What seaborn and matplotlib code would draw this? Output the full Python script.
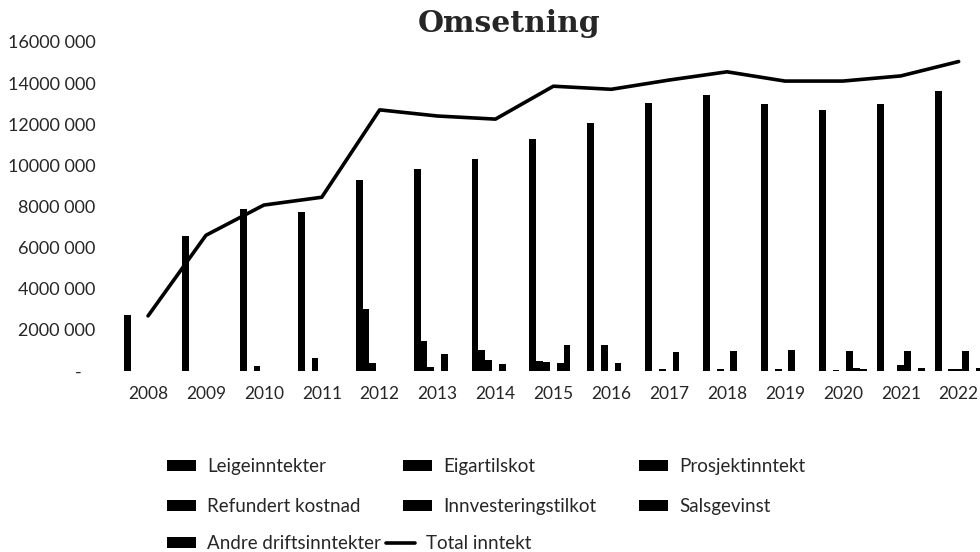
import numpy as np
import pandas as pd
import matplotlib
matplotlib.use("Agg")
import matplotlib.pyplot as plt
import seaborn as sns

years = [str(y) for y in range(2008, 2023)]
leigeinntekter = [2.70, 6.58, 7.86, 7.75, 9.29, 9.82, 10.31, 11.28, 12.06, 13.03, 13.42, 12.99, 12.70, 12.99, 13.62]
eigartilskot = [0, 0, 0, 0, 3.02, 1.47, 1.02, 0.50, 0, 0, 0, 0, 0, 0, 0]
prosjektinntekt = [0, 0, 0.24, 0.62, 0.40, 0.19, 0.53, 0.45, 1.26, 0.08, 0.08, 0.08, 0.03, 0, 0.10]
refundert_kostnad = [0, 0, 0, 0, 0, 0, 0, 0, 0, 0, 0, 0, 0, 0.29, 0.10]
innvesteringstilkot = [0, 0, 0, 0, 0, 0.81, 0.34, 0.40, 0.40, 0.90, 0.99, 1.02, 0.99, 0.99, 0.99]
salsgevinst = [0, 0, 0, 0, 0, 0, 0, 1.26, 0, 0, 0, 0, 0.13, 0, 0]
andre_driftsinntekter = [0, 0, 0, 0, 0, 0, 0, 0, 0, 0, 0, 0, 0.10, 0.16, 0.15]
total_inntekt = [2.68, 6.60, 8.07, 8.45, 12.70, 12.40, 12.25, 13.85, 13.70, 14.15, 14.55, 14.10, 14.10, 14.35, 15.05]

series_names = ["Leigeinntekter", "Eigartilskot", "Prosjektinntekt", "Refundert kostnad",
                "Innvesteringstilkot", "Salsgevinst", "Andre driftsinntekter"]
series_values = [leigeinntekter, eigartilskot, prosjektinntekt, refundert_kostnad,
                 innvesteringstilkot, salsgevinst, andre_driftsinntekter]
line_name = "Total inntekt"
title = "Omsetning"
y_ticks = [0, 2e6, 4e6, 6e6, 8e6, 10e6, 12e6, 14e6, 16e6]
y_tick_labels = ["-   ", "2000 000", "4000 000", "6000 000", "8000 000",
                 "10000 000", "12000 000", "14000 000", "16000 000"]

rows = []
for name, vals in zip(series_names, series_values):
    for yr, v in zip(years, vals):
        rows.append({"År": yr, "Serie": name, "Verdi": v * 1e6})
df = pd.DataFrame(rows)

sns.set_theme(style="white")
plt.rcParams["font.family"] = ["Lato", "DejaVu Sans"]

fig = plt.figure(figsize=(9.8, 5.52), dpi=100)
ax = fig.add_axes([119.1 / 980, 1 - 371 / 552, 868.5 / 980, 329 / 552])

sns.barplot(data=df, x="År", y="Verdi", hue="Serie", order=years, hue_order=series_names,
            palette=["black"] * 7, saturation=1, width=0.824, gap=0, errorbar=None,
            linewidth=0, ax=ax)
sns.lineplot(x=np.arange(len(years)), y=np.array(total_inntekt) * 1e6, color="black",
             linewidth=2.6, ax=ax, label=line_name)

handles, labels = ax.get_legend_handles_labels()
ax.get_legend().remove()
hmap = dict(zip(labels, handles))

leg_kw = dict(frameon=False, fontsize=13.5, borderpad=0, borderaxespad=0,
              handlelength=1.55, handleheight=0.55, handletextpad=0.6)
order_a = ["Leigeinntekter", "Refundert kostnad", "Eigartilskot",
           "Innvesteringstilkot", "Prosjektinntekt", "Salsgevinst"]
leg_a = fig.legend([hmap[o] for o in order_a], order_a, ncol=3, loc="upper left",
                   bbox_to_anchor=(167 / 980, 1 - 458 / 552),
                   labelspacing=1.22, columnspacing=2.25, **leg_kw)
order_b = ["Andre driftsinntekter", "Total inntekt"]
leg_b = fig.legend([hmap[o] for o in order_b], order_b, ncol=2, loc="upper left",
                   bbox_to_anchor=(167 / 980, 1 - 535 / 552),
                   columnspacing=0.25, **leg_kw)

ax.set_xlim(-0.5, len(years) - 0.5)
ax.set_ylim(0, 16e6)
ax.set_yticks(y_ticks)
ax.set_yticklabels(y_tick_labels)
ax.set_xticks(range(len(years)))
ax.set_xticklabels(years)
ax.tick_params(axis="y", length=0, pad=17, labelsize=13)
ax.tick_params(axis="x", length=0, pad=11, labelsize=12.5)
ax.set_xlabel("")
ax.set_ylabel("")
for s in ax.spines.values():
    s.set_visible(False)

fig.text(509 / 980, 1 - 23 / 552, title, ha="center", va="center",
         fontsize=21.5, fontweight="bold", family=["DejaVu Serif"])

fig.savefig("out.png", dpi=100)
